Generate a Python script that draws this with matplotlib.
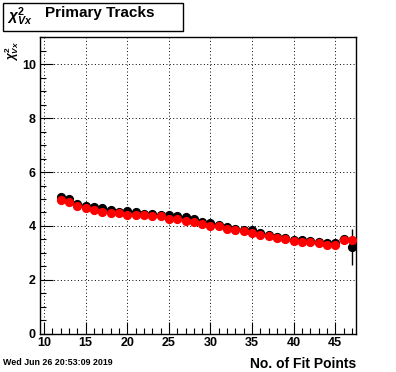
import numpy as np
import matplotlib
matplotlib.use("Agg")
import matplotlib.pyplot as plt
from matplotlib.patches import Rectangle
from matplotlib.ticker import MultipleLocator

plt.rcParams['font.family'] = ['Liberation Sans', 'DejaVu Sans']
plt.rcParams['mathtext.fontset'] = 'custom'
plt.rcParams['mathtext.rm'] = 'Liberation Sans:bold'
plt.rcParams['mathtext.it'] = 'Liberation Sans:italic:bold'
plt.rcParams['mathtext.bf'] = 'Liberation Sans:bold'

# число точек фита
fit_points = np.arange(12, 48)

# чёрная серия
chi2_black = [5.08, 5.00, 4.80, 4.75, 4.72, 4.65, 4.58, 4.53, 4.55, 4.52,
              4.46, 4.44, 4.42, 4.42, 4.37, 4.32, 4.27, 4.13, 4.10, 4.03,
              3.95, 3.89, 3.83, 3.83, 3.72, 3.66, 3.58, 3.55, 3.49, 3.46,
              3.44, 3.39, 3.35, 3.36, 3.50, 3.22]
err_black = [0.04, 0.03, 0.03, 0.03, 0.03, 0.03, 0.03, 0.03, 0.03, 0.03,
             0.03, 0.03, 0.03, 0.03, 0.03, 0.03, 0.03, 0.03, 0.03, 0.03,
             0.03, 0.03, 0.03, 0.03, 0.03, 0.03, 0.03, 0.03, 0.03, 0.04,
             0.04, 0.05, 0.06, 0.08, 0.12, 0.68]

# красная серия
chi2_red = [4.97, 4.88, 4.75, 4.66, 4.58, 4.50, 4.48, 4.48, 4.42, 4.41,
            4.41, 4.36, 4.35, 4.26, 4.25, 4.20, 4.15, 4.07, 4.00, 3.98,
            3.90, 3.85, 3.80, 3.74, 3.67, 3.62, 3.55, 3.52, 3.43, 3.42,
            3.39, 3.35, 3.30, 3.30, 3.47, 3.47]
err_red = [0.03] * 30 + [0.03, 0.04, 0.04, 0.05, 0.06, 0.08]

W, H = 396, 372
fig = plt.figure(figsize=(W / 100, H / 100), dpi=100)
ax = fig.add_axes([40 / W, 1 - 333.7 / H, 316 / W, 296.4 / H])

ax.errorbar(fit_points, chi2_black, yerr=err_black, xerr=0.5, fmt='o',
            color='black', ms=5.6, elinewidth=1, capsize=0, zorder=3)
ax.errorbar(fit_points, chi2_red, yerr=err_red, xerr=0.5, fmt='o',
            color='red', ms=5.6, elinewidth=1, capsize=0, zorder=4)

ax.set_xlim(9.5, 47.5)
ax.set_ylim(0, 11)
ax.xaxis.set_major_locator(MultipleLocator(5))
ax.xaxis.set_minor_locator(MultipleLocator(1))
ax.yaxis.set_major_locator(MultipleLocator(2))
ax.yaxis.set_minor_locator(MultipleLocator(0.5))
ax.tick_params(which='both', direction='in', top=False, right=False,
               labelsize=9, width=0.8, color='black')
ax.tick_params(which='major', length=9)
ax.tick_params(which='minor', length=4.5)
ax.tick_params(axis='x', pad=2.5)
ax.tick_params(axis='y', pad=3)
for lab in ax.get_xticklabels() + ax.get_yticklabels():
    lab.set_fontweight('bold')
ax.grid(True, which='major', color='black', linestyle=(0, (1, 2.5)), linewidth=0.7)
for sp in ax.spines.values():
    sp.set_linewidth(1)

# подписи
fig.text(356 / W, 1 - 368 / H, 'No. of Fit Points', ha='right', va='baseline',
         fontsize=10, fontweight='bold')
fig.text(12 / W, 1 - 41 / H, r'$\chi^{2}_{Vx}$', rotation=90, ha='center',
         va='top', fontsize=8.5)
fig.text(3 / W, 1 - 365 / H, 'Wed Jun 26 20:53:09 2019', ha='left',
         va='baseline', fontsize=6.4, fontweight='bold')

# рамка заголовка
fig.patches.append(Rectangle((3.3 / W, 1 - 30.7 / H), 180 / W, 28 / H,
                             transform=fig.transFigure, fill=False,
                             edgecolor='black', linewidth=1))
fig.text(7 / W, 1 - 17 / H, r'$\chi^{2}_{Vx}$', ha='left', va='center',
         fontsize=11)
fig.text(45 / W, 1 - 17 / H, 'Primary Tracks', ha='left', va='baseline',
         fontsize=11, fontweight='bold')

fig.savefig('out.png', dpi=100)
